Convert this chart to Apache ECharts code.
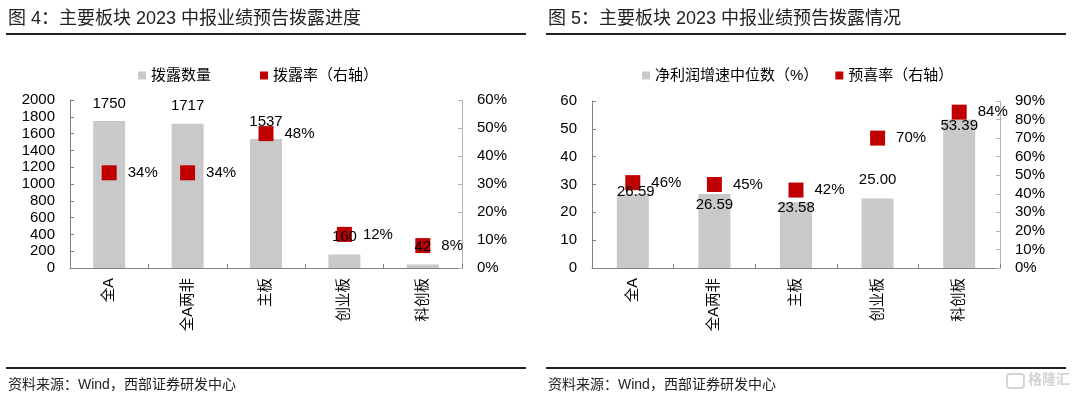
<!DOCTYPE html>
<html>
<head>
<meta charset="utf-8">
<script src="https://cdn.jsdelivr.net/npm/echarts@6/dist/echarts.min.js"></script>
<style>
  html, body { margin: 0; padding: 0; background: #fff; }
  #chart { width: 1080px; height: 399px; }
</style>
</head>
<body>
<div id="chart"></div>
<script>
const FONT = '"Liberation Sans", Arial, "Noto Sans CJK SC", sans-serif'

// 数据
const categories = ['全A', '全A两非', '主板', '创业板', '科创板']
// 图4
const disclosedCount = [1750, 1717, 1537, 160, 42]
const disclosedRate = [34, 34, 48, 12, 8]
// 图5
const profitGrowthMedian = [26.59, 26.59, 23.58, 25.00, 53.39]
const preJoyRate = [46, 45, 42, 70, 84]

// 图5 柱标签的手动微调（原图标签位置不统一）
const growthLabelShift = [[3, 5], [0, 18], [0, 13], [0, -11], [0, 14]]

const colBar = '#c9c9c9'
const colRed = '#c00000'
const axisDark = '#808080'
const axisLight = '#b4b4b4'

function catAxis(gridIndex) {
  return {
    type: 'category',
    gridIndex,
    data: categories,
    axisLine: { lineStyle: { color: axisDark } },
    axisTick: { show: true, inside: true, length: 4, lineStyle: { color: axisDark } },
    axisLabel: { rotate: 90, margin: 10, fontSize: 14.5, color: '#000', fontFamily: FONT },
  }
}

function valAxis(gridIndex, max, interval, pos, pct) {
  return {
    type: 'value',
    gridIndex,
    position: pos,
    min: 0,
    max,
    interval,
    splitLine: { show: false },
    axisLine: { show: true, lineStyle: { color: pos === 'left' ? axisDark : axisLight } },
    axisTick: { show: true, inside: true, length: 4, lineStyle: { color: pos === 'left' ? axisDark : axisLight } },
    axisLabel: {
      margin: 15, fontSize: 15, color: '#000', fontFamily: FONT,
      formatter: (v) => pct ? v + '%' : String(v),
    },
  }
}

function legend(left, itemGap, names) {
  return {
    left, top: 63, itemGap,
    itemWidth: 8, itemHeight: 8,
    icon: 'rect',
    textStyle: { fontSize: 15, color: '#000', fontFamily: FONT },
    data: names,
  }
}

function panelGraphics(x, title) {
  return [
    { type: 'text', left: x + 8, top: 10, style: { text: title, font: '18px ' + FONT, fill: '#222' } },
    { type: 'rect', shape: { x: x + 6, y: 33, width: 520, height: 2 }, style: { fill: '#222' } },
    { type: 'rect', shape: { x: x + 6, y: 367, width: 520, height: 2 }, style: { fill: '#222' } },
    { type: 'text', left: x + 8, top: 378, style: { text: '资料来源：Wind，西部证券研发中心', font: '14px ' + FONT, fill: '#222' } },
  ]
}

const rateLabel = {
  show: true, position: 'right', distance: 11,
  fontSize: 15, color: '#000', fontFamily: FONT,
  formatter: (p) => p.value + '%',
}

const barLabelStyle = { show: true, fontSize: 15, color: '#000', fontFamily: FONT }

// 透明柱只用来承载数值标签，让标签压在红色方块上面
function labelCarrier(xi, yi, data, label) {
  return {
    type: 'bar',
    xAxisIndex: xi, yAxisIndex: yi,
    data,
    barWidth: 32,
    barGap: '-100%',
    itemStyle: { color: 'rgba(0,0,0,0)' },
    label,
    silent: true,
    z: 4,
  }
}

const option = {
  animation: false,
  textStyle: { fontFamily: FONT },
  grid: [
    { left: 70, top: 100, width: 392, height: 168 },
    { left: 592, top: 101, width: 408, height: 167 },
  ],
  legend: [
    legend(133, 49, ['拨露数量', '拨露率（右轴）']),
    legend(637, 17, ['净利润增速中位数（%）', '预喜率（右轴）']),
  ],
  xAxis: [catAxis(0), catAxis(1)],
  yAxis: [
    valAxis(0, 2000, 200, 'left', false),
    valAxis(0, 60, 10, 'right', true),
    valAxis(1, 60, 10, 'left', false),
    valAxis(1, 90, 10, 'right', true),
  ],
  series: [
    {
      name: '拨露数量',
      type: 'bar',
      xAxisIndex: 0, yAxisIndex: 0,
      data: disclosedCount,
      barWidth: 32,
      itemStyle: { color: colBar },
      z: 2,
    },
    labelCarrier(0, 0, disclosedCount, { ...barLabelStyle, position: 'top', distance: 10 }),
    {
      name: '拨露率（右轴）',
      type: 'scatter',
      xAxisIndex: 0, yAxisIndex: 1,
      data: disclosedRate,
      symbol: 'rect',
      symbolSize: 15,
      itemStyle: { color: colRed, opacity: 1 },
      label: rateLabel,
      z: 3,
    },
    {
      name: '净利润增速中位数（%）',
      type: 'bar',
      xAxisIndex: 1, yAxisIndex: 2,
      data: profitGrowthMedian,
      barWidth: 32,
      itemStyle: { color: colBar },
      z: 2,
    },
    labelCarrier(1, 2,
      profitGrowthMedian.map((v, i) => ({ value: v, label: { offset: growthLabelShift[i] } })),
      { ...barLabelStyle, position: 'top', distance: 0, formatter: (p) => p.value.toFixed(2) }),
    {
      name: '预喜率（右轴）',
      type: 'scatter',
      xAxisIndex: 1, yAxisIndex: 3,
      data: preJoyRate,
      symbol: 'rect',
      symbolSize: 15,
      itemStyle: { color: colRed, opacity: 1 },
      label: rateLabel,
      z: 3,
    },
  ],
  graphic: [
    ...panelGraphics(0, '图 4：主要板块 2023 中报业绩预告拨露进度'),
    ...panelGraphics(540, '图 5：主要板块 2023 中报业绩预告拨露情况'),
    // 水印
    { type: 'rect', shape: { x: 1007, y: 374, width: 17, height: 14, r: 3 }, style: { fill: 'none', stroke: '#d4d4d4', lineWidth: 2 } },
    { type: 'text', left: 1028, top: 373, style: { text: '格隆汇', font: 'bold 14px ' + FONT, fill: '#d4d4d4' } },
  ],
}

const chart = echarts.init(document.getElementById('chart'))
chart.setOption(option)
</script>
</body>
</html>
